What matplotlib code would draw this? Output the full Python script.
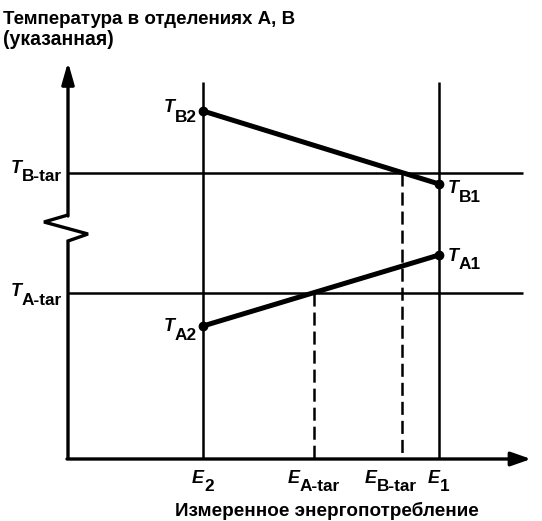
import matplotlib
matplotlib.use("Agg")
import matplotlib.pyplot as plt
import matplotlib.transforms as mtransforms

plt.rcParams['font.family'] = ['Liberation Sans', 'DejaVu Sans']
plt.rcParams['lines.scale_dashes'] = False

# ---- schematic data (arbitrary units) ----
energy_labels = ["2", "A-tar", "B-tar", "1"]
E2, E_A_tar, E_B_tar, E1 = 135, 246, 334, 371
T_B2, T_B1 = 348, 275
T_A2, T_A1 = 133, 204
T_B_tar, T_A_tar = 286, 166
title_line1 = "Температура в отделениях А, В"
title_line2 = "(указанная)"
xlabel_text = "Измеренное энергопотребление"

W, H, DPI = 542, 521, 100
fig = plt.figure(figsize=(W / DPI, H / DPI), dpi=DPI)
ax = fig.add_axes([0, 0, 1, 1])
ax.set_xlim(-68, W - 68)
ax.set_ylim(-(H - 459), 459)
ax.axis('off')

K = 'black'
lw_axis = 2.4
lw_thin = 1.8
lw_thick = 3.6

# y axis with break (zigzag)
ax.plot([0, 0, 20, -24, 0], [0, 218, 225, 237, 244], color=K, lw=lw_axis,
        solid_joinstyle='miter', solid_capstyle='butt')
ax.annotate('', xy=(0, 397), xytext=(0, 243),
            arrowprops=dict(arrowstyle='-|>,head_length=1.3,head_width=0.37',
                            lw=lw_axis, color=K, shrinkA=0, shrinkB=0,
                            mutation_scale=10))
# x axis
ax.annotate('', xy=(463, 0), xytext=(-1, 0),
            arrowprops=dict(arrowstyle='-|>,head_length=1.2,head_width=0.42',
                            lw=lw_axis, color=K, shrinkA=0, shrinkB=0,
                            mutation_scale=10))

# vertical lines at E2 and E1
for e in (E2, E1):
    ax.plot([e, e], [0, 377], color=K, lw=lw_thin, solid_capstyle='butt')
# horizontal target lines
for t in (T_B_tar, T_A_tar):
    ax.plot([0, 455], [t, t], color=K, lw=lw_thin, solid_capstyle='butt')
# dashed target energy lines
ax.plot([E_A_tar, E_A_tar], [T_A_tar, 0], color=K, lw=lw_thin,
        dashes=(9.4, 4.3), dash_capstyle='butt')
ax.plot([E_B_tar, E_B_tar], [T_B_tar, 0], color=K, lw=lw_thin,
        dashes=(9.4, 4.3), dash_capstyle='butt')

# thick temperature lines with end points
ax.plot([E2, E1], [T_B2, T_B1], color=K, lw=lw_thick, solid_capstyle='round',
        marker='o', markersize=6, zorder=5)
ax.plot([E2, E1], [T_A2, T_A1], color=K, lw=lw_thick, solid_capstyle='round',
        marker='o', markersize=6, zorder=5)

fig.canvas.draw()
renderer = fig.canvas.get_renderer()


def text_width(s, **kw):
    t = fig.text(0, 0, s, **kw)
    w = t.get_window_extent(renderer).width
    t.remove()
    return w


def fit_size(target_px, parts):
    """parts: list of (string, kwargs) drawn side by side; returns font size."""
    base = 12.0
    w = sum(text_width(s, fontsize=base, **kw) for s, kw in parts)
    return base * target_px / w


MAIN_KW = dict(style='italic', fontweight='bold')
SUB_KW = dict(fontweight='bold')
FS_LAB = fit_size(54, [('E', MAIN_KW), ('A-tar', SUB_KW)])
FS_LAB = min(max(FS_LAB, 10), 16)


def comp_label(x, y, main, sub, anchor, dx, dy_main, dy_sub, gap=0):
    """dx, dy in pixels (y downward positive)."""
    tm = ax.text(x, y, main, fontsize=FS_LAB, ha='left', va='baseline', **MAIN_KW)
    ts = ax.text(x, y, sub, fontsize=FS_LAB * 0.96, ha='left', va='baseline', **SUB_KW)
    wm = tm.get_window_extent(renderer).width
    ws = ts.get_window_extent(renderer).width
    total = wm + gap + ws
    if anchor == 'left':
        left = dx
    elif anchor == 'right':
        left = dx - total
    else:
        left = dx - total / 2
    tm.set_transform(mtransforms.offset_copy(ax.transData, fig, x=left,
                                             y=-dy_main, units='dots'))
    ts.set_transform(mtransforms.offset_copy(ax.transData, fig,
                                             x=left + wm + gap,
                                             y=-dy_sub, units='dots'))


# temperature point labels
comp_label(E2, T_B2, 'T', 'B2', 'right', -6, 1, 11)
comp_label(E2, T_A2, 'T', 'A2', 'right', -6, 5, 14)
comp_label(E1, T_B1, 'T', 'B1', 'left', 9, 9, 18)
comp_label(E1, T_A1, 'T', 'A1', 'left', 9, 6, 14)
# y axis target labels
comp_label(0, T_B_tar, 'T', 'B-tar', 'right', -6, 0, 8)
comp_label(0, T_A_tar, 'T', 'A-tar', 'right', -6, 3, 12)
# x axis labels
for e, lab, off in zip([E2, E_A_tar, E_B_tar, E1], energy_labels,
                       [0, 0, -11, 0]):
    comp_label(e, 0, 'E', lab, 'center', off, 24, 32)

# titles (sizes fitted to the reference text widths)
fs_title = min(max(fit_size(292, [(title_line1, dict(fontweight='bold'))]), 10), 16)
fig.text(3 / W, 1 - 24 / H, title_line1, fontsize=fs_title, fontweight='bold',
         ha='left', va='baseline')
fig.text(3 / W, 1 - 45 / H, title_line2, fontsize=fs_title * 1.04, fontweight='bold',
         ha='left', va='baseline')
fs_xl = min(max(fit_size(302, [(xlabel_text, dict(fontweight='bold'))]), 10), 17)
fig.text(327 / W, 1 - 516 / H, xlabel_text, fontsize=fs_xl, fontweight='bold',
         ha='center', va='baseline')

fig.savefig('out.png', dpi=DPI)
